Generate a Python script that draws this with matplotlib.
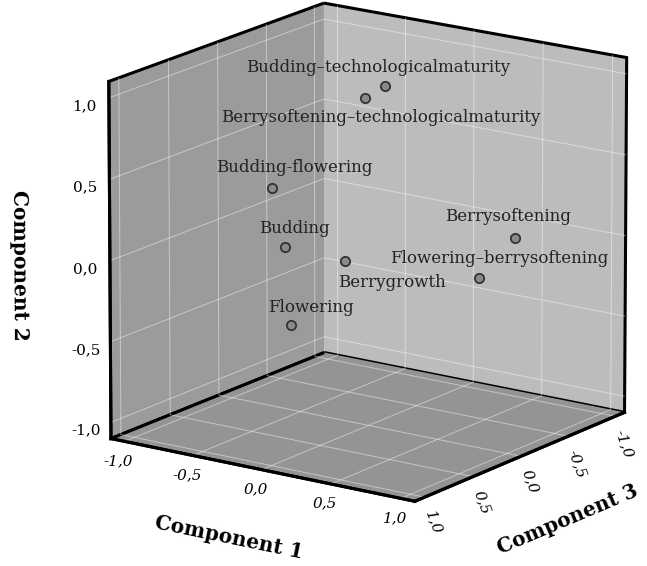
import matplotlib
matplotlib.use("Agg")
import matplotlib.pyplot as plt
import matplotlib.transforms as mtrans
from matplotlib.ticker import FuncFormatter
import numpy as np

# ---- data ----
names = ["Budding\u2013technologicalmaturity", "Berrysoftening\u2013technologicalmaturity",
         "Budding-flowering", "Budding", "Berrygrowth", "Flowering",
         "Berrysoftening", "Flowering\u2013berrysoftening"]
comp1 = [0.12, 0.08, -0.35, -0.18, -0.03, -0.07, 0.85, 0.73]
comp2 = [1.02, 0.97, 0.43, 0.12, -0.04, -0.32, 0.13, -0.09]
comp3 = [0.00, 0.15, 0.50, 0.60, 0.20, 0.70, -0.30, -0.10]
ticks = [-1.0, -0.5, 0.0, 0.5, 1.0]

# label offsets in pixels (style)
label_offsets = [(-7, 18), (16, -19), (23, 21), (9, 18), (47, -21), (20, 18), (-7, 22), (20, 20)]

plt.rcParams['font.family'] = ['DejaVu Serif']

fig = plt.figure(figsize=(6.47, 5.66), dpi=100)
ax = fig.add_axes([0.058, 0.048, 1.0, 1.0], projection='3d')
ax.set_proj_type('persp', focal_length=4.0)
ax.view_init(elev=16, azim=35)
ax.set_box_aspect((1, 1, 1), zoom=1.1)

# x = Component 3, y = Component 1, z = Component 2
ax.set_xlim(-1.1, 1.1)
ax.set_ylim(-1.1, 1.1)
ax.set_zlim(-1.1, 1.1)
ax.set_xticks(ticks)
ax.set_yticks(ticks)
ax.set_zticks(ticks)
fmt = FuncFormatter(lambda v, p: f"{v:.1f}".replace('.', ','))

ax.xaxis.set_pane_color('#bcbcbc')
ax.yaxis.set_pane_color('#9b9b9b')
ax.zaxis.set_pane_color('#949494')
for a in (ax.xaxis, ax.yaxis, ax.zaxis):
    a.set_major_formatter(fmt)
    a._axinfo['tick']['inward_factor'] = 0.0
    a._axinfo['tick']['outward_factor'] = 0.0
    a._axinfo['grid']['color'] = (1, 1, 1, 0.45)
    a._axinfo['grid']['linewidth'] = 0.7
    a.pane.set_edgecolor('black')
    a.pane.set_linewidth(2.2)
    a.line.set_color('black')
    a.line.set_linewidth(2.2)

ax.tick_params(axis='x', labelsize=11, pad=-2)
ax.tick_params(axis='y', labelsize=11, pad=-2)
ax.tick_params(axis='z', labelsize=11, pad=2)
for lab in ax.get_xticklabels():
    lab.set_rotation(-70)
    lab.set_fontstyle('italic')
for lab in ax.get_yticklabels():
    lab.set_fontstyle('italic')

ax.set_xlabel('Component 3', fontsize=14.5, fontweight='bold', labelpad=11)
ax.set_ylabel('Component 1', fontsize=14.5, fontweight='bold', labelpad=11)
ax.set_zlabel('Component 2', fontsize=14.5, fontweight='bold', labelpad=16)

ax.scatter(comp3, comp1, comp2, s=45, c='#8a8a8a', edgecolors='#333333',
           linewidths=1.3, depthshade=False)

for n, x, y, z, (dx, dy) in zip(names, comp3, comp1, comp2, label_offsets):
    tr = mtrans.offset_copy(ax.transData, fig=fig, x=dx, y=dy, units='dots')
    ax.text(x, y, z, n, fontsize=12, ha='center', va='center', transform=tr, color='#222222')

fig.savefig('out.png', dpi=100)
